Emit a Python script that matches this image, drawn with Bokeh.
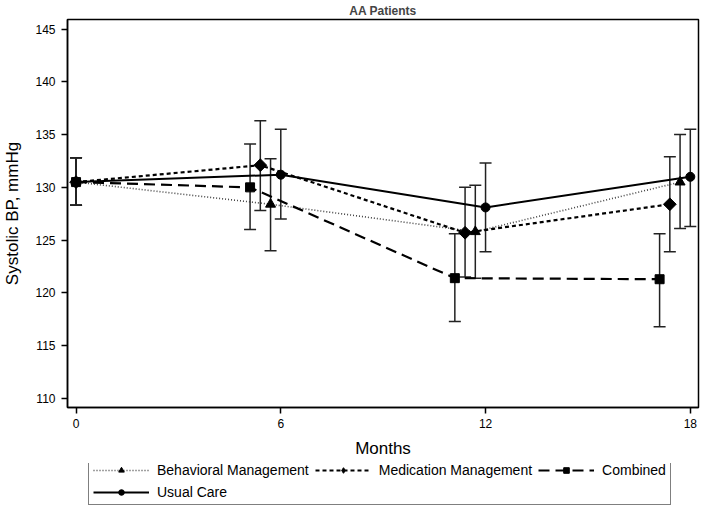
import math
from bokeh.plotting import figure
from bokeh.layouts import column
from bokeh.models import (ColumnDataSource, Whisker, TeeHead, Legend, FixedTicker,
                          Range1d)
from bokeh.embed import file_html
from bokeh.resources import INLINE

# ---- data ----
months = [0, 6, 12, 18]
x_ticks = [0, 6, 12, 18]
y_ticks = [110, 115, 120, 125, 130, 135, 140, 145]

series_names = ["Behavioral Management", "Medication Management", "Combined", "Usual Care"]

beh_mean = [130.5, 128.4, 125.8, 130.5]
beh_lo = [128.3, 124.0, 121.4, 126.1]
beh_hi = [132.8, 132.7, 130.2, 135.0]

med_mean = [130.5, 132.1, 125.7, 128.4]
med_lo = [128.3, 127.8, 121.5, 123.9]
med_hi = [132.8, 136.3, 130.0, 132.9]

comb_mean = [130.5, 130.0, 121.4, 121.3]
comb_lo = [128.3, 126.0, 117.3, 116.8]
comb_hi = [132.8, 134.1, 125.6, 125.6]

uc_mean = [130.5, 131.2, 128.1, 131.0]
uc_lo = [128.3, 127.0, 123.9, 126.3]
uc_hi = [132.8, 135.5, 132.3, 135.5]

# horizontal dodge (months) applied to follow-up visits so bars don't overlap
dodge = [-0.3, -0.6, -0.9, 0.0]

FONT = "Liberation Sans"
W = 700

p = figure(width=W, height=463, output_backend="svg", toolbar_location=None,
           x_range=Range1d(-0.25, 18.24), y_range=Range1d(109.15, 145.9),
           min_border_left=60, min_border_right=2, min_border_top=0,
           min_border_bottom=56, title="AA Patients")
p.title.align = "center"
p.title.text_font = FONT
p.title.text_font_size = "12px"
p.title.text_font_style = "bold"
p.title.standoff = 3
p.title.offset = 0

p.xgrid.visible = False
p.ygrid.visible = False
p.outline_line_color = "black"
p.outline_line_width = 1.5
p.background_fill_color = "white"
p.border_fill_color = "white"

for ax in (p.xaxis[0], p.yaxis[0]):
    ax.axis_line_color = "black"
    ax.axis_line_width = 1.5
    ax.major_tick_line_color = "black"
    ax.major_tick_line_width = 1.5
    ax.major_tick_out = 6
    ax.major_tick_in = 0
    ax.minor_tick_line_color = None
    ax.major_label_text_font = FONT
    ax.major_label_text_font_size = "12px"
    ax.major_label_text_color = "black"
    ax.axis_label_text_font = FONT
    ax.axis_label_text_font_size = "17px"
    ax.axis_label_text_font_style = "normal"
    ax.axis_label_text_color = "black"

p.xaxis.ticker = FixedTicker(ticks=x_ticks)
p.yaxis.ticker = FixedTicker(ticks=y_ticks)
p.xaxis.axis_label = "Months"
p.yaxis.axis_label = "Systolic BP, mmHg"
p.xaxis.major_label_standoff = 5
p.yaxis.major_label_standoff = 6
p.xaxis.axis_label_standoff = 8
p.yaxis.axis_label_standoff = 10

styles = [
    dict(dash="1 2", width=1.6, color="#444444", marker="triangle", size=10, angle=0.0,
         lmarker="triangle"),
    dict(dash="4 3", width=2.2, color="black", marker="square", size=9, angle=math.pi / 4,
         lmarker="diamond"),
    dict(dash="11 6", width=2.2, color="black", marker="square", size=9, angle=0.0,
         lmarker="square"),
    dict(dash="solid", width=2.0, color="black", marker="circle", size=9, angle=0.0,
         lmarker="circle"),
]
means = [beh_mean, med_mean, comb_mean, uc_mean]
los = [beh_lo, med_lo, comb_lo, uc_lo]
his = [beh_hi, med_hi, comb_hi, uc_hi]

srcs = []
for name, st, m, lo, hi, dx in zip(series_names, styles, means, los, his, dodge):
    xs = [mo + (dx if mo > 0 else 0.0) for mo in months]
    src = ColumnDataSource(dict(x=xs, y=m, lower=lo, upper=hi))
    w = Whisker(source=src, base="x", upper="upper", lower="lower", dimension="height",
                line_color="#222222", line_width=1.5,
                upper_head=TeeHead(size=12, line_color="#222222", line_width=1.5),
                lower_head=TeeHead(size=12, line_color="#222222", line_width=1.5))
    p.add_layout(w)
    srcs.append(src)

for src, st in zip(srcs, styles):
    p.line("x", "y", source=src, line_color=st["color"], line_width=st["width"],
           line_dash=st["dash"])
    p.scatter("x", "y", source=src, marker=st["marker"], size=st["size"],
              angle=st["angle"], fill_color="black", line_color="black")

# ---- legend strip below the chart (its renderers reuse the data, kept off-range) ----
lg = figure(width=W, height=42, output_backend="svg", toolbar_location=None,
            x_range=Range1d(1000, 1001), y_range=Range1d(1000, 1001),
            x_axis_type=None, y_axis_type=None,
            min_border_left=60, min_border_right=2, min_border_top=0,
            min_border_bottom=0)
lg.xgrid.visible = False
lg.ygrid.visible = False
lg.outline_line_color = None
lg.border_fill_color = "white"

legend_items = []
for name, st, src in zip(series_names, styles, srcs):
    lr = lg.line("x", "y", source=src, line_color=st["color"], line_width=st["width"],
                 line_dash=st["dash"])
    sr = lg.scatter("x", "y", source=src, marker=st["lmarker"], size=st["size"],
                    fill_color="black", line_color="black")
    legend_items.append((name, [lr, sr]))

legend = Legend(items=legend_items, orientation="horizontal", ncols=3,
                location=(21, 0))
legend.label_text_font = FONT
legend.label_text_font_size = "14px"
legend.label_text_color = "black"
legend.glyph_width = 56
legend.glyph_height = 14
legend.label_height = 14
legend.label_standoff = 8
legend.spacing = 6
legend.padding = 4
legend.margin = 0
legend.border_line_color = "black"
legend.border_line_width = 1.5
legend.background_fill_color = "white"
lg.add_layout(legend, "center")

page = column(p, lg, spacing=0)
open("out.html", "w").write(file_html(page, INLINE))
